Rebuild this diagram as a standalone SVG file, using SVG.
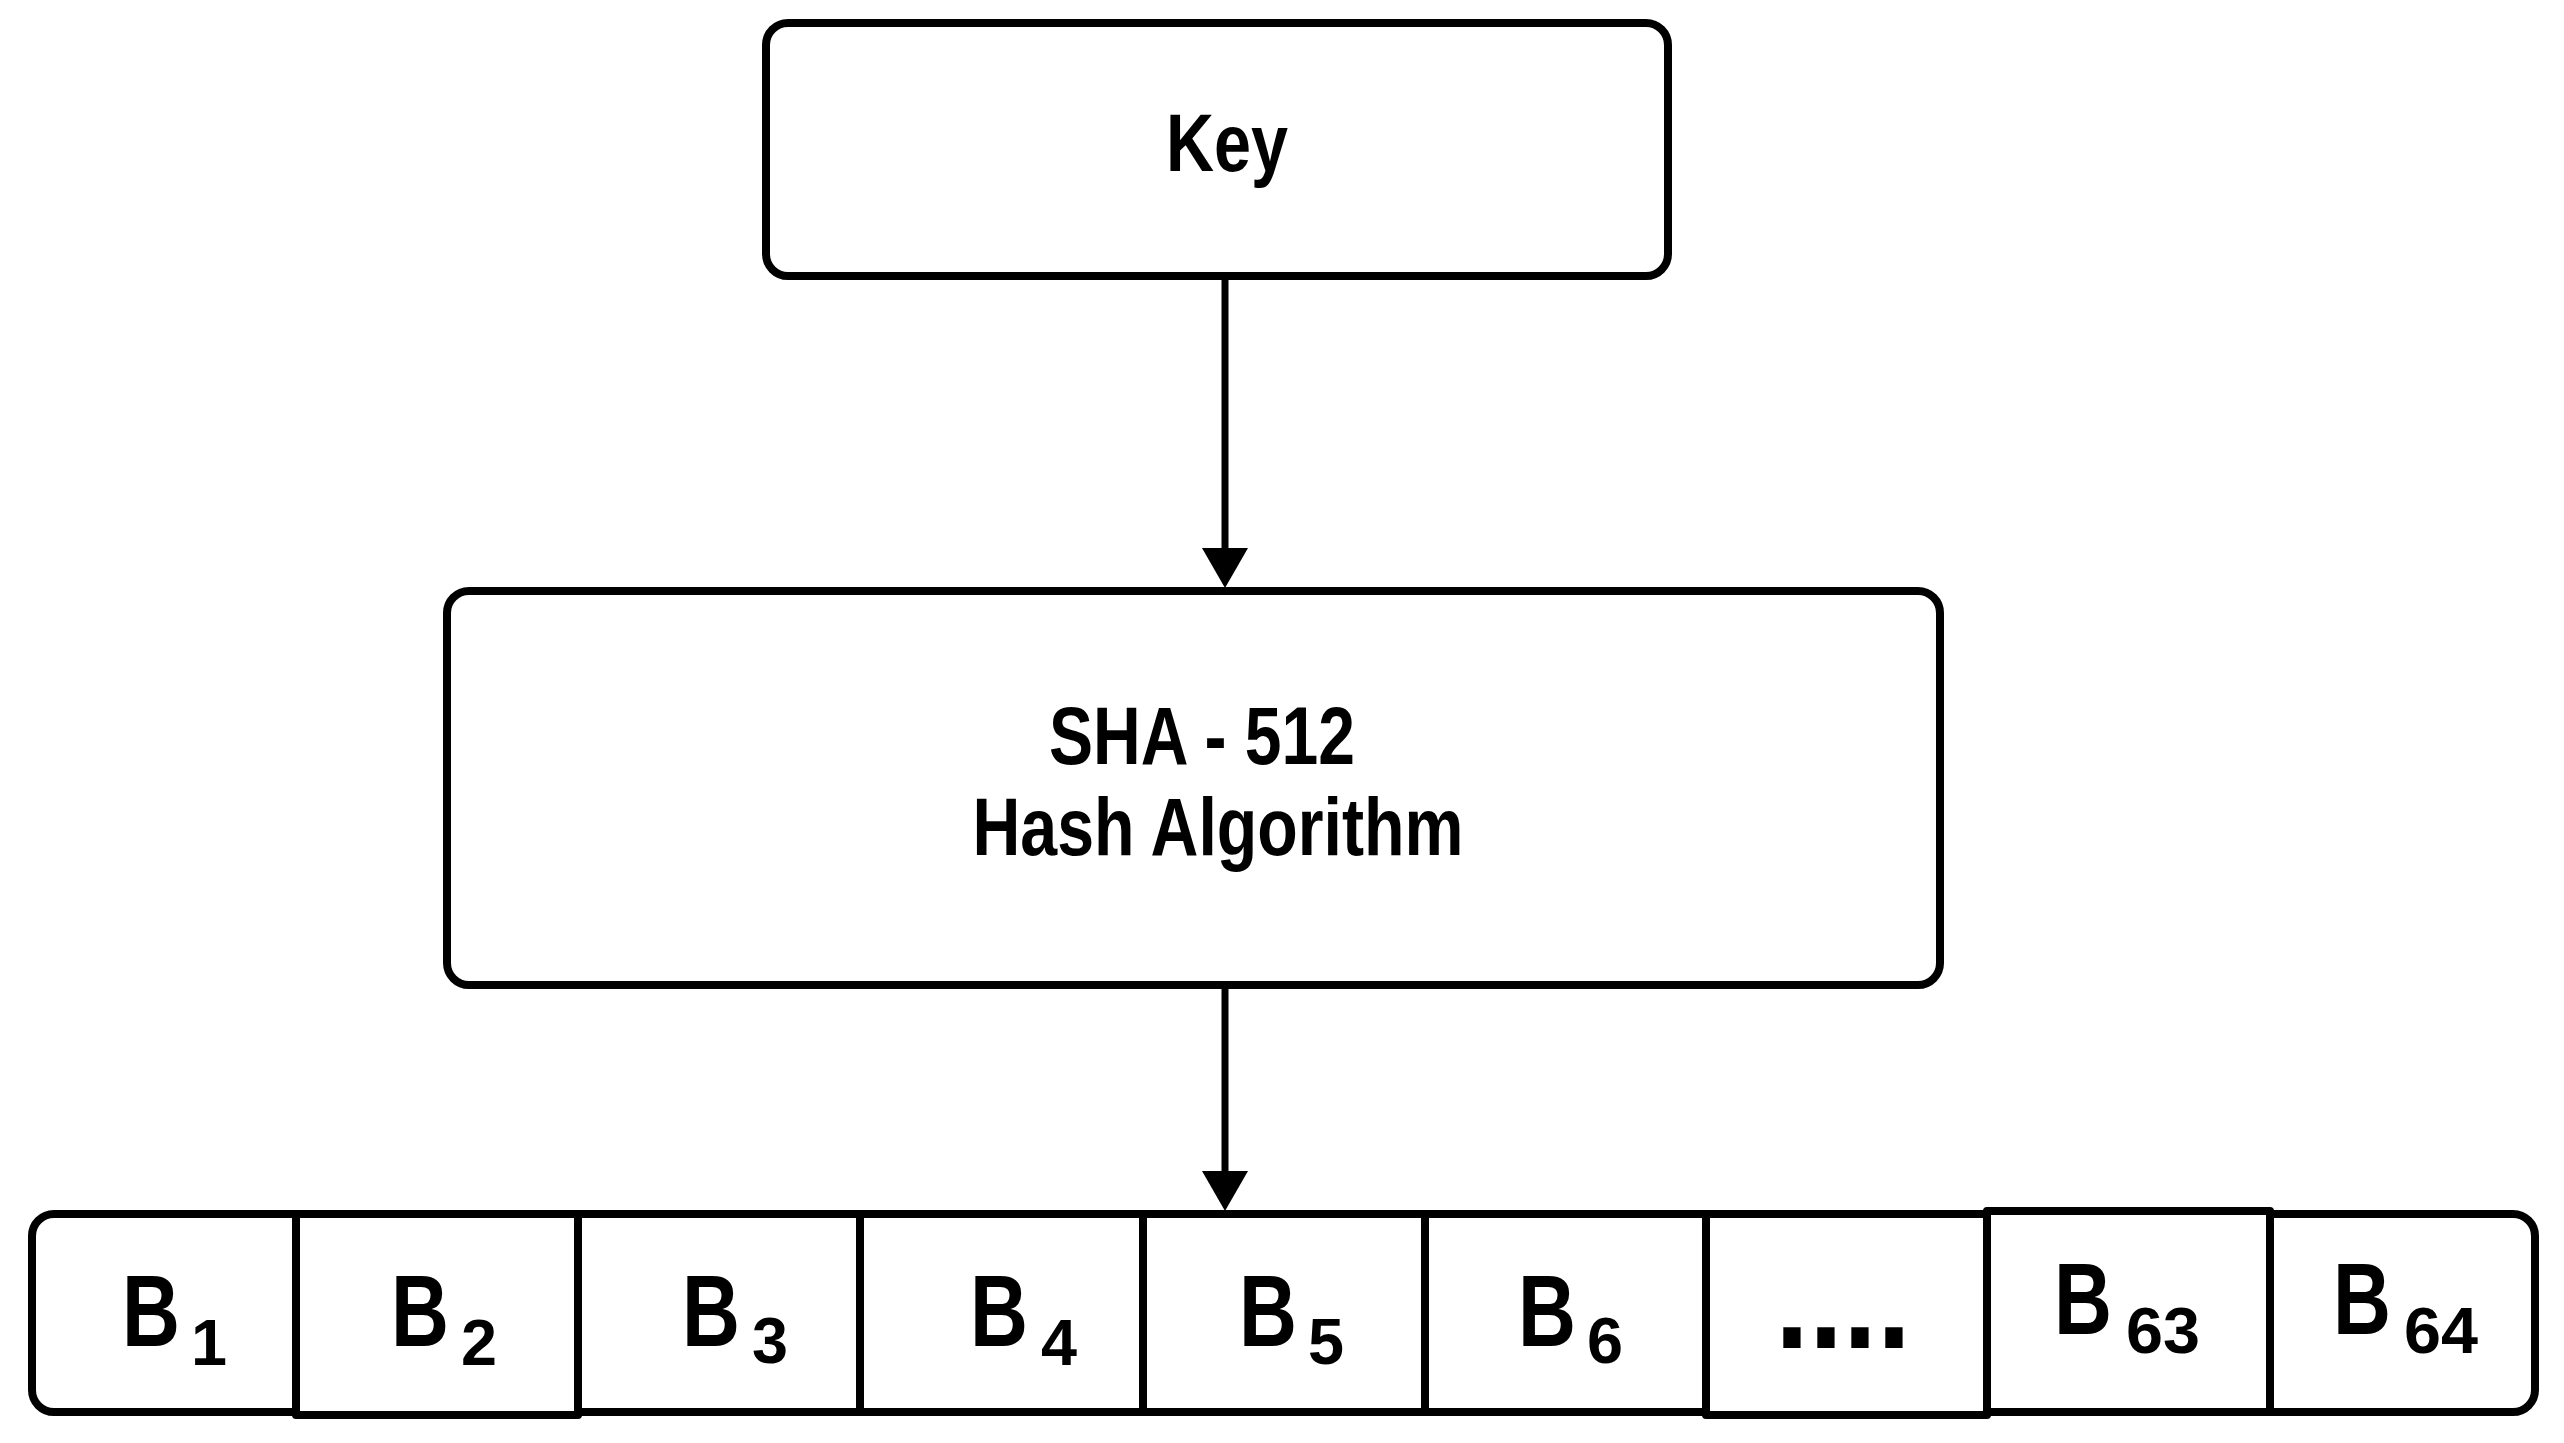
<svg xmlns="http://www.w3.org/2000/svg" width="2564" height="1443" viewBox="0 0 2564 1443">
<style>
.box{fill:#fff;stroke:#000;stroke-width:8;stroke-linejoin:round}
.lbl{font-family:"Liberation Sans",Arial,sans-serif;font-weight:bold;fill:#000}
.big{font-size:81px}
.b{font-size:102px}
.sub{font-size:64px}
.conn{stroke:#000;stroke-width:7;fill:none}
</style>
<defs>
<marker id="arr" markerUnits="userSpaceOnUse" viewBox="0 0 40 46" refX="0" refY="23" markerWidth="40" markerHeight="46" orient="auto">
<path d="M0,0 L40,23 L0,46 Z" fill="#000"/>
</marker>
</defs>
<rect width="2564" height="1443" fill="#fff"/>
<g id="connectors">
<line class="conn" x1="1225" y1="280" x2="1225" y2="548" marker-end="url(#arr)"/>
<line class="conn" x1="1225" y1="989" x2="1225" y2="1171" marker-end="url(#arr)"/>
</g>
<g id="key">
<rect class="box" x="766" y="23" width="902" height="253" rx="22"/>
<text class="lbl big" x="1227" y="171" text-anchor="middle" textLength="122" lengthAdjust="spacingAndGlyphs">Key</text>
</g>
<g id="sha512">
<rect class="box" x="447" y="591" width="1493" height="394" rx="22"/>
<text class="lbl big"><tspan x="1202" y="764" text-anchor="middle" textLength="306" lengthAdjust="spacingAndGlyphs">SHA - 512</tspan><tspan x="1218" y="855" text-anchor="middle" textLength="491" lengthAdjust="spacingAndGlyphs">Hash Algorithm</tspan></text>
</g>
<g id="b1">
<path class="box" d="M296,1214 H54 A22,22 0 0 0 32,1236 V1390 A22,22 0 0 0 54,1412 H296 Z"/>
<text class="lbl"><tspan class="b" x="151" y="1346" text-anchor="middle" textLength="58" lengthAdjust="spacingAndGlyphs">B</tspan><tspan class="sub" x="209" y="1365" text-anchor="middle" textLength="36" lengthAdjust="spacingAndGlyphs">1</tspan></text>
</g>
<g id="b2">
<rect class="box" x="296" y="1214" width="282" height="201"/>
<text class="lbl"><tspan class="b" x="420" y="1346" text-anchor="middle" textLength="58" lengthAdjust="spacingAndGlyphs">B</tspan><tspan class="sub" x="479" y="1365" text-anchor="middle" textLength="36" lengthAdjust="spacingAndGlyphs">2</tspan></text>
</g>
<g id="b3">
<rect class="box" x="578" y="1214" width="282" height="198"/>
<text class="lbl"><tspan class="b" x="711" y="1346" text-anchor="middle" textLength="58" lengthAdjust="spacingAndGlyphs">B</tspan><tspan class="sub" x="770" y="1363" text-anchor="middle" textLength="36" lengthAdjust="spacingAndGlyphs">3</tspan></text>
</g>
<g id="b4">
<rect class="box" x="860" y="1214" width="283" height="198"/>
<text class="lbl"><tspan class="b" x="999" y="1346" text-anchor="middle" textLength="58" lengthAdjust="spacingAndGlyphs">B</tspan><tspan class="sub" x="1059" y="1365" text-anchor="middle" textLength="36" lengthAdjust="spacingAndGlyphs">4</tspan></text>
</g>
<g id="b5">
<rect class="box" x="1143" y="1214" width="282" height="198"/>
<text class="lbl"><tspan class="b" x="1268" y="1346" text-anchor="middle" textLength="58" lengthAdjust="spacingAndGlyphs">B</tspan><tspan class="sub" x="1326" y="1364" text-anchor="middle" textLength="36" lengthAdjust="spacingAndGlyphs">5</tspan></text>
</g>
<g id="b6">
<rect class="box" x="1425" y="1214" width="281" height="198"/>
<text class="lbl"><tspan class="b" x="1547" y="1346" text-anchor="middle" textLength="58" lengthAdjust="spacingAndGlyphs">B</tspan><tspan class="sub" x="1605" y="1363" text-anchor="middle" textLength="36" lengthAdjust="spacingAndGlyphs">6</tspan></text>
</g>
<g id="ellipsis">
<rect class="box" x="1706" y="1214" width="281" height="201"/>
<text class="lbl" x="1843" y="1348" font-size="140" text-anchor="middle" textLength="136" lengthAdjust="spacingAndGlyphs">....</text>
</g>
<g id="b63">
<rect class="box" x="1987" y="1211" width="283" height="201"/>
<text class="lbl"><tspan class="b" x="2083" y="1334" text-anchor="middle" textLength="58" lengthAdjust="spacingAndGlyphs">B</tspan><tspan class="sub" x="2163" y="1353" text-anchor="middle" textLength="74" lengthAdjust="spacingAndGlyphs">63</tspan></text>
</g>
<g id="b64">
<path class="box" d="M2270,1214 H2513 A22,22 0 0 1 2535,1236 V1390 A22,22 0 0 1 2513,1412 H2270 Z"/>
<text class="lbl"><tspan class="b" x="2362" y="1334" text-anchor="middle" textLength="58" lengthAdjust="spacingAndGlyphs">B</tspan><tspan class="sub" x="2441" y="1353" text-anchor="middle" textLength="74" lengthAdjust="spacingAndGlyphs">64</tspan></text>
</g>
</svg>
